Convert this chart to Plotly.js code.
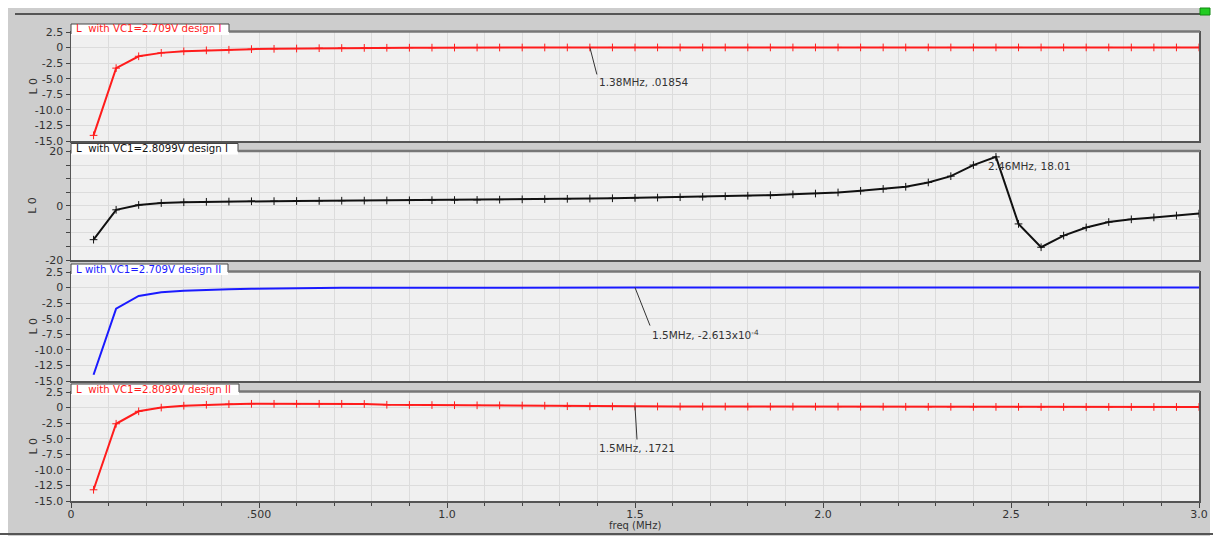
<!DOCTYPE html>
<html>
<head>
<meta charset="utf-8">
<script src="https://cdn.plot.ly/plotly-3.0.1.min.js"></script>
<style>html,body{margin:0;padding:0;background:#fff;}#chart{width:1213px;height:536px;}</style>
</head>
<body>
<div id="chart"></div>
<script>
// ---- data (frequency in MHz) ----
const freq = [0.06,0.12,0.18,0.24,0.30,0.36,0.42,0.48,0.54,0.60,0.66,0.72,0.78,0.84,0.90,0.96,1.02,1.08,1.14,1.20,1.26,1.32,1.38,1.44,1.50,1.56,1.62,1.68,1.74,1.80,1.86,1.92,1.98,2.04,2.10,2.16,2.22,2.28,2.34,2.40,2.46,2.52,2.58,2.64,2.70,2.76,2.82,2.88,2.94,3.00];

const designI_2709 = [-14.1,-3.3,-1.4,-0.85,-0.6,-0.45,-0.35,-0.25,-0.2,-0.15,-0.1,-0.07,-0.05,-0.03,-0.02,-0.01,0.0,0.005,0.01,0.012,0.015,0.017,0.01854,0.019,0.02,0.02,0.02,0.02,0.021,0.021,0.021,0.021,0.021,0.022,0.022,0.022,0.022,0.022,0.022,0.022,0.022,0.022,0.022,0.022,0.022,0.022,0.022,0.022,0.022,0.022];

const designI_28099 = [-12.5,-1.5,0.3,1.0,1.3,1.45,1.55,1.65,1.7,1.75,1.8,1.85,1.9,1.95,2.0,2.05,2.1,2.15,2.25,2.35,2.45,2.55,2.65,2.75,2.9,3.0,3.15,3.3,3.5,3.7,3.9,4.2,4.5,4.9,5.5,6.2,7.0,8.6,10.9,15.0,18.01,-6.7,-15.3,-11.0,-8.0,-6.0,-5.0,-4.3,-3.6,-2.9];

const designII_2709 = [-14.0,-3.4,-1.35,-0.75,-0.5,-0.35,-0.25,-0.18,-0.12,-0.08,-0.05,-0.03,-0.02,-0.01,-0.006,-0.004,-0.003,-0.002,-0.0015,-0.001,-0.0008,-0.0006,-0.0004,-0.0003,-0.0002613,-0.0002,-0.0002,-0.0002,-0.0002,-0.0002,-0.0002,-0.0002,-0.0002,-0.0002,-0.0002,-0.0002,-0.0002,-0.0002,-0.0002,-0.0002,-0.0002,-0.0002,-0.0002,-0.0002,-0.0002,-0.0002,-0.0002,-0.0002,-0.0002,-0.0002];

const designII_28099 = [-13.2,-2.6,-0.6,0.0,0.3,0.45,0.55,0.6,0.6,0.6,0.6,0.6,0.58,0.45,0.42,0.4,0.38,0.36,0.35,0.33,0.3,0.22,0.2,0.18,0.1721,0.17,0.16,0.16,0.16,0.15,0.15,0.15,0.15,0.15,0.14,0.14,0.13,0.12,0.12,0.11,0.11,0.11,0.1,0.1,0.1,0.1,0.1,0.1,0.1,0.1];

const panelTitles = ["L\u00a0 with VC1=2.709V design I","L\u00a0 with VC1=2.8099V design I","L with VC1=2.709V design II","L\u00a0 with VC1=2.8099V design II"];

const xTickVals = [0,0.5,1.0,1.5,2.0,2.5,3.0];
const xTickText = ["0",".500","1.0","1.5","2.0","2.5","3.0"];
const yTickVals = [2.5,0,-2.5,-5,-7.5,-10,-12.5,-15];
const yTickText = ["2.5","0","-2.5","-5.0","-7.5","-10.0","-12.5","-15.0"];
const y2TickVals = [-20,0,20];
const y2TickText = ["-20","0","20"];

const annText = ["1.38MHz, .01854","2.46MHz, 18.01","1.5MHz, -2.613x10<sup>-4</sup>","1.5MHz, .1721"];

// ---- layout helpers ----
const W = 1213, H = 536;
const px = x => x / W;
const py = y => 1 - y / H;

const RED = "#ff1c1c", BLUE = "#1a1aff", BLACK = "#111111";
const FONT = "DejaVu Sans, Verdana, sans-serif";
const panels = [
  {top: 32, bottom: 141, tab: 229, color: RED},
  {top: 151.5, bottom: 260, tab: 238, color: BLACK},
  {top: 272, bottom: 381, tab: 228, color: BLUE},
  {top: 392, bottom: 501, tab: 239, color: RED}
];

function mk(y, color, axisIdx, markers) {
  const t = {
    x: freq, y: y, type: "scatter",
    mode: markers ? "lines+markers" : "lines",
    line: {color: color, width: 2},
    xaxis: axisIdx === 1 ? "x" : "x" + axisIdx,
    yaxis: axisIdx === 1 ? "y" : "y" + axisIdx,
    hoverinfo: "x+y", showlegend: false
  };
  if (markers) t.marker = {symbol: "cross-thin", size: 5.5, color: color, line: {color: color, width: 1}};
  return t;
}

const data = [
  mk(designI_2709, RED, 1, true),
  mk(designI_28099, BLACK, 2, true),
  mk(designII_2709, BLUE, 3, false),
  mk(designII_28099, RED, 4, true)
];

const gridc = "#dcdcdc";
const layout = {
  width: W, height: H,
  margin: {l: 0, r: 0, t: 0, b: 0},
  paper_bgcolor: "#cdcdcd",
  plot_bgcolor: "#f0f0f0",
  font: {family: FONT, size: 11, color: "#333"},
  showlegend: false,
  shapes: [], annotations: []
};

for (let i = 0; i < 4; i++) {
  const p = panels[i];
  const n = i === 0 ? "" : String(i + 1);
  const isBottom = i === 3;
  layout["xaxis" + n] = {
    domain: [px(71), px(1199)],
    range: [0, 3.0],
    anchor: "y" + n,
    tickmode: "array", tickvals: xTickVals, ticktext: xTickText,
    showticklabels: isBottom,
    ticks: isBottom ? "outside" : "",
    ticklen: 5, tickcolor: "#444", tickwidth: 1,
    ticklabelstandoff: -3,
    showgrid: true, gridcolor: gridc, gridwidth: 1,
    minor: {tickmode: "linear", tick0: 0, dtick: 0.1, ticks: isBottom ? "outside" : "", ticklen: 3, tickcolor: "#444", showgrid: true, gridcolor: gridc},
    zeroline: false,
    showline: true, linecolor: "#555", linewidth: 1.5, mirror: true,
    tickfont: {family: FONT, size: 11, color: "#333"},
    automargin: false, fixedrange: true
  };
  if (i > 0) layout["xaxis" + n].matches = "x";
  const ya = {
    domain: [py(p.bottom), py(p.top)],
    anchor: "x" + n,
    ticks: "outside", ticklen: 4, tickcolor: "#444", tickwidth: 1,
    showgrid: true, gridcolor: gridc, gridwidth: 1,
    zeroline: false,
    showline: true, linecolor: "#555", linewidth: 1.5, mirror: true,
    tickfont: {family: FONT, size: 11, color: "#333"},
    automargin: false, fixedrange: true
  };
  if (i === 1) {
    ya.range = [-20, 20];
    ya.tickmode = "array"; ya.tickvals = y2TickVals; ya.ticktext = y2TickText;
    ya.minor = {tickmode: "linear", tick0: 0, dtick: 5, ticks: "outside", ticklen: 4, tickcolor: "#444", showgrid: true, gridcolor: gridc};
  } else {
    ya.range = [-15, 2.5];
    ya.tickmode = "array"; ya.tickvals = yTickVals; ya.ticktext = yTickText;
  }
  layout["yaxis" + n] = ya;

  // title tab
  layout.shapes.push({type: "rect", xref: "paper", yref: "paper", layer: "above",
    x0: px(71), x1: px(p.tab), y0: py(p.top + 3), y1: py(p.top - 8),
    fillcolor: "#ffffff", line: {width: 0}});
  layout.shapes.push({type: "path", xref: "paper", yref: "paper", layer: "above",
    path: `M ${px(71)} ${py(p.top + 2)} L ${px(71)} ${py(p.top - 8)} L ${px(p.tab)} ${py(p.top - 8)} L ${px(p.tab)} ${py(p.top)}`,
    line: {color: "#444", width: 1}});
  layout.shapes.push({type: "line", xref: "paper", yref: "paper", layer: "above",
    x0: px(p.tab), x1: px(1200), y0: py(p.top - 0.5), y1: py(p.top - 0.5),
    line: {color: "#777", width: 2.5}});
  layout.annotations.push({xref: "paper", yref: "paper", x: px(74), y: py(p.top - 3),
    xanchor: "left", yanchor: "middle", showarrow: false, text: panelTitles[i],
    font: {family: FONT, size: 10.2, color: p.color}});
  // y axis label
  layout.annotations.push({xref: "paper", yref: "paper", x: px(33), y: py((p.top + p.bottom) / 2),
    xanchor: "center", yanchor: "middle", showarrow: false, text: "L 0", textangle: -90,
    font: {family: FONT, size: 11, color: "#333"}});
}

// outer frame (white border strips, separator line, indicator)
layout.shapes.unshift(
  {type: "rect", xref: "paper", yref: "paper", layer: "below", x0: 0, x1: px(8), y0: 0, y1: 1, fillcolor: "#ffffff", line: {width: 0}},
  {type: "rect", xref: "paper", yref: "paper", layer: "below", x0: 0, x1: 1, y0: py(8), y1: 1, fillcolor: "#ffffff", line: {width: 0}},
  {type: "rect", xref: "paper", yref: "paper", layer: "below", x0: px(1210), x1: 1, y0: 0, y1: 1, fillcolor: "#ffffff", line: {width: 0}},
  {type: "line", xref: "paper", yref: "paper", layer: "below", x0: px(15), x1: px(1200), y0: py(14), y1: py(14), line: {color: "#555", width: 2}},
  {type: "rect", xref: "paper", yref: "paper", layer: "below", x0: px(1200), x1: px(1210), y0: py(15), y1: py(8), fillcolor: "#22cc22", line: {color: "#118811", width: 1}},
  {type: "line", xref: "paper", yref: "paper", layer: "below", x0: px(0), x1: px(1213), y0: py(534), y1: py(534), line: {color: "#555", width: 2}}
);

// x-axis title
layout.annotations.push({xref: "paper", yref: "paper", x: px(635), y: py(525), xanchor: "center", yanchor: "middle",
  showarrow: false, text: "freq (MHz)", font: {family: FONT, size: 10, color: "#333"}});

// marker annotations
const af = {family: FONT, size: 10.5, color: "#333"};
layout.annotations.push(
  {xref: "x", yref: "y", x: freq[22], y: designI_2709[22], text: annText[0], showarrow: true, arrowhead: 0, arrowwidth: 1, arrowcolor: "#333", ax: 7, ay: 27, xanchor: "left", yanchor: "top", font: af},
  {xref: "x2", yref: "y2", x: freq[40], y: designI_28099[40], text: annText[1], showarrow: false, xanchor: "left", yanchor: "middle", xshift: -10, yshift: -9, font: af},
  {xref: "x3", yref: "y3", x: freq[24], y: designII_2709[24], text: annText[2], showarrow: true, arrowhead: 0, arrowwidth: 1, arrowcolor: "#333", ax: 15, ay: 38, xanchor: "left", yanchor: "top", font: af},
  {xref: "x4", yref: "y4", x: freq[24], y: designII_28099[24], text: annText[3], showarrow: true, arrowhead: 0, arrowwidth: 1, arrowcolor: "#333", ax: 2, ay: 33, xanchor: "center", yanchor: "top", font: af}
);

Plotly.newPlot("chart", data, layout, {displayModeBar: false, staticPlot: true});
</script>
</body>
</html>
